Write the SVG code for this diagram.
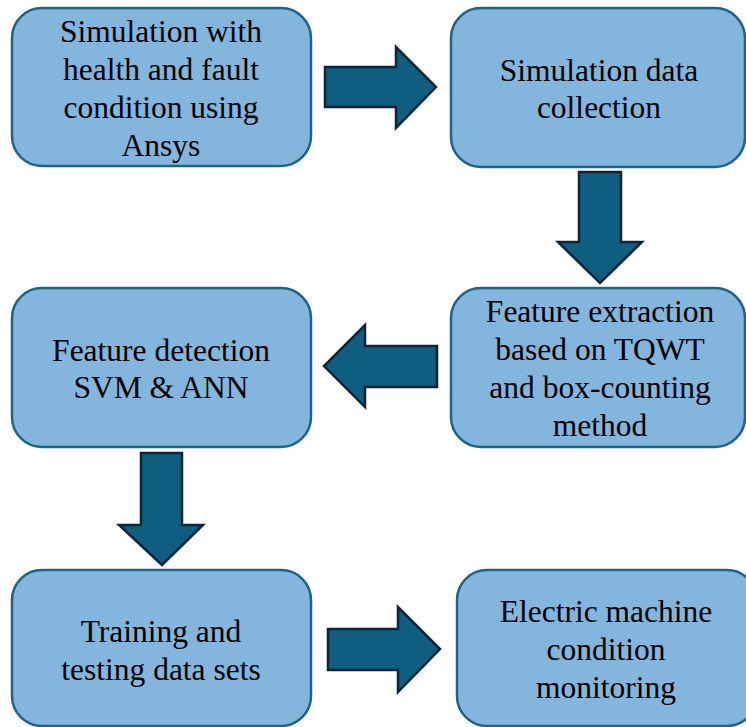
<svg xmlns="http://www.w3.org/2000/svg" width="746" height="727" viewBox="0 0 746 727">
<style>
.box{fill:#83B5DD;stroke:#1C6488;stroke-width:2.5}
.arr{fill:#0F5E80;stroke:#0D2538;stroke-width:2.5;stroke-linejoin:miter}
text{font-family:'Liberation Serif','Times New Roman',serif;font-size:31.5px;fill:#000;text-anchor:middle}
</style>
<rect width="746" height="727" fill="#fff"/>
<g id="connectors">
<polygon class="arr" points="325,67 396,67 396,47 436,87 396,128 396,107 325,107"/>
<polygon class="arr" points="579,172 621,172 621,242 642,242 600,283 558,242 579,242"/>
<polygon class="arr" points="437,346 365,346 365,325 324,366 365,407 365,387 437,387"/>
<polygon class="arr" points="141,453 182,453 182,525 203,525 162,565 119,525 141,525"/>
<polygon class="arr" points="328,629 398,629 398,607 440,649 398,692 398,670 328,670"/>
</g>
<g id="n1">
<rect class="box" x="12" y="8" width="299" height="158" rx="30"/>
<text x="161" y="42">Simulation with</text>
<text x="161" y="80">health and fault</text>
<text x="161" y="118">condition using</text>
<text x="161" y="156">Ansys</text>
</g>
<g id="n2">
<rect class="box" x="451" y="8" width="294" height="159" rx="30"/>
<text x="599" y="81">Simulation data</text>
<text x="599" y="118">collection</text>
</g>
<g id="n3">
<rect class="box" x="451" y="288" width="294" height="159" rx="30"/>
<text x="600" y="322">Feature extraction</text>
<text x="600" y="360">based on TQWT</text>
<text x="600" y="398">and box-counting</text>
<text x="600" y="436">method</text>
</g>
<g id="n4">
<rect class="box" x="12" y="288" width="299" height="159" rx="30"/>
<text x="161" y="361">Feature detection</text>
<text x="161" y="398">SVM &amp; ANN</text>
</g>
<g id="n5">
<rect class="box" x="12" y="570" width="299" height="156" rx="30"/>
<text x="161" y="642">Training and</text>
<text x="161" y="680">testing data sets</text>
</g>
<g id="n6">
<rect class="box" x="457" y="570" width="300" height="156" rx="30"/>
<text x="606" y="622">Electric machine</text>
<text x="606" y="660">condition</text>
<text x="606" y="698">monitoring</text>
</g>
</svg>
